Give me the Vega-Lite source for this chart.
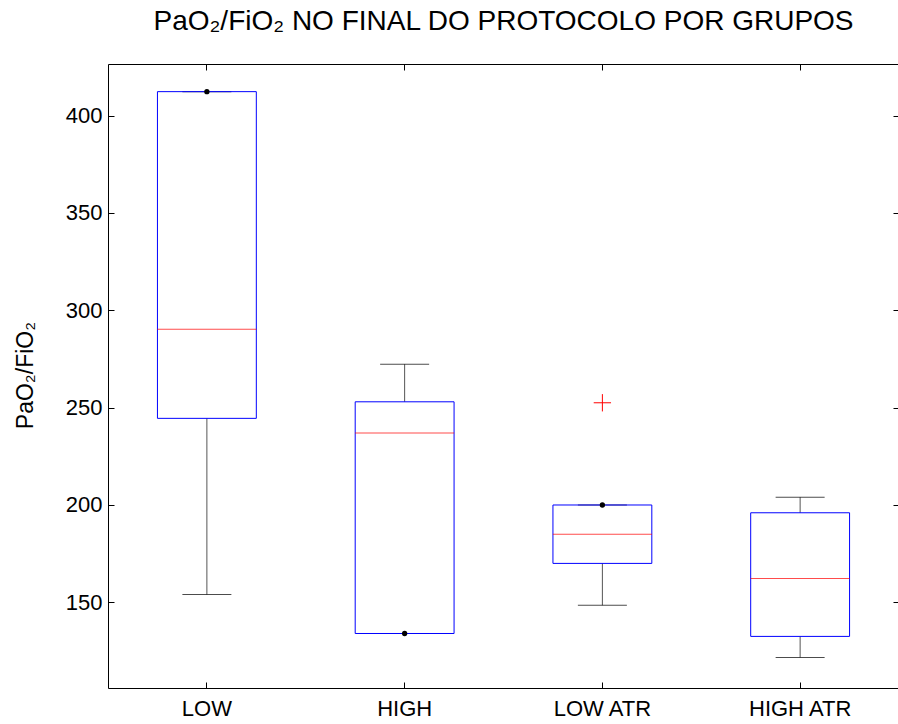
{
  "$schema": "https://vega.github.io/schema/vega-lite/v6.json",
  "width": 791,
  "height": 624,
  "autosize": "none",
  "padding": {"left": 108, "top": 64, "right": 0, "bottom": 36},
  "background": "white",
  "config": {
    "font": "Liberation Sans",
    "view": {"stroke": null},
    "axis": {
      "grid": false,
      "labelFont": "Liberation Sans",
      "labelFontSize": 22,
      "labelColor": "black",
      "tickColor": "black",
      "domainColor": "black",
      "titleFont": "Liberation Sans",
      "titleFontWeight": "normal",
      "titleColor": "black"
    }
  },
  "title": {
    "text": "PaO₂/FiO₂ NO FINAL DO PROTOCOLO POR GRUPOS",
    "font": "Liberation Sans",
    "fontSize": 28,
    "fontWeight": "normal",
    "color": "black",
    "anchor": "middle",
    "baseline": "alphabetic",
    "offset": 6
  },
  "datasets": {
    "boxes": [
      {"group": "LOW", "lo": 154.0, "q1": 244.5, "median": 290.3, "q3": 412.3, "hi": 412.3},
      {"group": "HIGH", "lo": 134.0, "q1": 134.0, "median": 237.0, "q3": 253.0, "hi": 272.3},
      {"group": "LOW ATR", "lo": 148.5, "q1": 170.0, "median": 185.0, "q3": 200.0, "hi": 200.0},
      {"group": "HIGH ATR", "lo": 121.7, "q1": 132.5, "median": 162.3, "q3": 196.0, "hi": 204.0}
    ],
    "points": [
      {"group": "LOW ATR", "kind": "outlier", "value": 252.5},
      {"group": "LOW", "kind": "marker", "value": 412.3},
      {"group": "HIGH", "kind": "marker", "value": 134.0},
      {"group": "LOW ATR", "kind": "marker", "value": 200.0}
    ]
  },
  "resolve": {"axis": {"x": "independent", "y": "independent"}},
  "layer": [
    {
      "data": {"name": "boxes"},
      "mark": {"type": "rule", "color": "#555555", "strokeWidth": 1},
      "encoding": {
        "x": {
          "field": "group", "type": "nominal",
          "sort": ["LOW", "HIGH", "LOW ATR", "HIGH ATR"],
          "scale": {"paddingInner": 0.5, "paddingOuter": 0.25},
          "axis": {"orient": "bottom", "title": null, "labelAngle": 0, "tickSize": -6, "labelPadding": 16, "domain": true}
        },
        "y": {
          "field": "lo", "type": "quantitative",
          "scale": {"domain": [106, 426.5], "nice": false, "zero": false},
          "axis": {"orient": "left", "values": [150, 200, 250, 300, 350, 400], "tickSize": -6, "labelPadding": 12,
                   "title": "PaO₂/FiO₂", "titleFontSize": 23, "titleX": -76, "titleY": 311, "titleBaseline": "alphabetic", "titleAlign": "center", "titleAngle": 270}
        },
        "y2": {"field": "q1"}
      }
    },
    {
      "data": {"name": "boxes"},
      "mark": {"type": "rule", "color": "#555555", "strokeWidth": 1},
      "encoding": {
        "x": {
          "field": "group", "type": "nominal",
          "sort": ["LOW", "HIGH", "LOW ATR", "HIGH ATR"],
          "axis": {"orient": "top", "title": null, "labels": false, "tickSize": -6, "domain": true}
        },
        "y": {
          "field": "q3", "type": "quantitative",
          "axis": {"orient": "right", "values": [150, 200, 250, 300, 350, 400], "labels": false, "tickSize": -6, "domain": false, "title": null}
        },
        "y2": {"field": "hi"}
      }
    },
    {
      "data": {"name": "boxes"},
      "mark": {"type": "tick", "color": "black", "size": 49, "thickness": 1, "orient": "horizontal"},
      "encoding": {
        "x": {"field": "group", "type": "nominal", "sort": ["LOW", "HIGH", "LOW ATR", "HIGH ATR"], "axis": null},
        "y": {"field": "lo", "type": "quantitative", "axis": null}
      }
    },
    {
      "data": {"name": "boxes"},
      "mark": {"type": "tick", "color": "black", "size": 49, "thickness": 1, "orient": "horizontal"},
      "encoding": {
        "x": {"field": "group", "type": "nominal", "sort": ["LOW", "HIGH", "LOW ATR", "HIGH ATR"], "axis": null},
        "y": {"field": "hi", "type": "quantitative", "axis": null}
      }
    },
    {
      "data": {"name": "boxes"},
      "mark": {"type": "bar", "fill": "white", "fillOpacity": 0, "stroke": "#0000ff", "strokeWidth": 1},
      "encoding": {
        "x": {"field": "group", "type": "nominal", "sort": ["LOW", "HIGH", "LOW ATR", "HIGH ATR"], "axis": null},
        "y": {"field": "q1", "type": "quantitative", "axis": null},
        "y2": {"field": "q3"}
      }
    },
    {
      "data": {"name": "boxes"},
      "mark": {"type": "tick", "color": "#ff0000", "size": 99, "thickness": 1, "orient": "horizontal"},
      "encoding": {
        "x": {"field": "group", "type": "nominal", "sort": ["LOW", "HIGH", "LOW ATR", "HIGH ATR"], "axis": null},
        "y": {"field": "median", "type": "quantitative", "axis": null}
      }
    },
    {
      "data": {"name": "points"},
      "transform": [{"filter": "datum.kind === 'outlier'"}],
      "mark": {"type": "point", "shape": "M-1,0H1M0,-1V1", "size": 300, "stroke": "#ff0000", "strokeWidth": 1, "filled": false, "opacity": 1},
      "encoding": {
        "x": {"field": "group", "type": "nominal", "sort": ["LOW", "HIGH", "LOW ATR", "HIGH ATR"], "axis": null},
        "y": {"field": "value", "type": "quantitative", "axis": null}
      }
    },
    {
      "data": {"name": "points"},
      "transform": [{"filter": "datum.kind === 'marker'"}],
      "mark": {"type": "circle", "size": 28, "color": "black", "opacity": 1},
      "encoding": {
        "x": {"field": "group", "type": "nominal", "sort": ["LOW", "HIGH", "LOW ATR", "HIGH ATR"], "axis": null},
        "y": {"field": "value", "type": "quantitative", "axis": null}
      }
    }
  ]
}
